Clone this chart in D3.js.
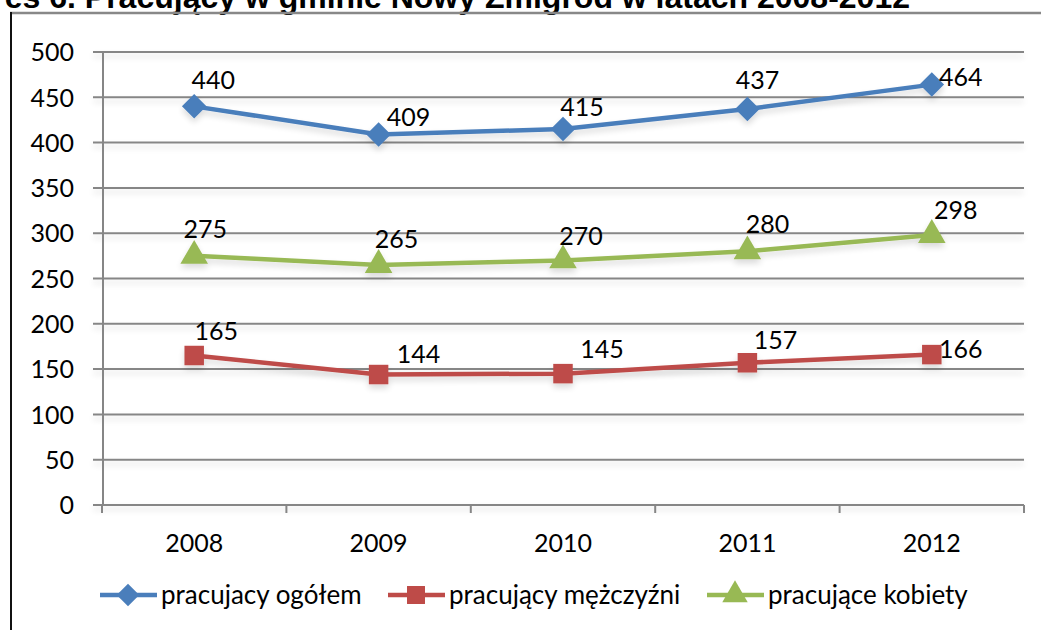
<!DOCTYPE html>
<html><head><meta charset="utf-8">
<script src="https://cdn.jsdelivr.net/npm/d3@7"></script>
<style>body{margin:0;background:#fff;overflow:hidden}svg{display:block}</style>
</head><body>
<svg id="c" width="1041" height="630"></svg>
<script>
const years = ["2008","2009","2010","2011","2012"];
const ogolem = [440,409,415,437,464];
const mezczyzni = [165,144,145,157,166];
const kobiety = [275,265,270,280,298];
const yTicks = [0,50,100,150,200,250,300,350,400,450,500];
const seriesNames = ["pracujacy ogółem","pracujący mężczyźni","pracujące kobiety"];
const titleText = "Wykres 6. Pracujący w gminie Nowy Żmigród w latach 2008-2012";

// label offsets (layout only)
const labelOffsets = [
  [[19,-26],[30,-17],[19,-22],[10,-29],[29,-7]],
  [[22,-24],[40,-20],[39,-24],[28,-23],[29,-5]],
  [[11,-27],[18,-26],[18,-24],[20,-27],[24,-25]]
];

const svg = d3.select("#c");
const font = "Lato, 'Open Sans', sans-serif";
const FS = 25;

const defs = svg.append("defs");
const f = defs.append("filter").attr("id","sh").attr("filterUnits","userSpaceOnUse")
  .attr("x",0).attr("y",0).attr("width",1041).attr("height",630);
f.append("feGaussianBlur").attr("in","SourceAlpha").attr("stdDeviation",3).attr("result","b");
f.append("feOffset").attr("in","b").attr("dy",4).attr("result","o");
f.append("feComponentTransfer").attr("in","o").attr("result","s").append("feFuncA").attr("type","linear").attr("slope",0.15);
const fm = f.append("feMerge"); fm.append("feMergeNode").attr("in","s"); fm.append("feMergeNode").attr("in","SourceGraphic");

// title (cut off at top)
svg.append("text").attr("x",910).attr("y",8).attr("text-anchor","end")
  .attr("font-family","'Liberation Sans', Arial, sans-serif").attr("font-weight","bold")
  .attr("font-size",32).attr("fill","#000").text(titleText);

// frame
svg.append("line").attr("x1",10).attr("x2",1041).attr("y1",13).attr("y2",13).attr("stroke","#888").attr("stroke-width",2.5);
svg.append("line").attr("x1",11).attr("x2",11).attr("y1",12).attr("y2",630).attr("stroke","#111").attr("stroke-width",2);

const x = d3.scaleBand().domain(years).range([102,1024]);
const y = d3.scaleLinear().domain([0,500]).range([505,52]);

// gridlines
const grid = svg.append("g").attr("filter","url(#sh)");
grid.selectAll("line").data(yTicks).join("line")
  .attr("x1",93).attr("x2",1024).attr("y1",d=>y(d)).attr("y2",d=>y(d))
  .attr("stroke","#868686").attr("stroke-width",2);

// y axis line
svg.append("line").attr("x1",103).attr("x2",103).attr("y1",y(500)).attr("y2",y(0)).attr("stroke","#868686").attr("stroke-width",2);

// y tick labels
const yAxis = d3.axisLeft(y).tickValues(yTicks).tickSize(0).tickPadding(0);
const gy = svg.append("g").attr("transform","translate(74,0)").call(yAxis);
gy.select(".domain").remove();
gy.selectAll("text").attr("font-family",font).attr("font-size",FS).attr("fill","#000").attr("dy","0.35em");

// x axis ticks at band boundaries
const bounds = years.map(d=>x(d)).concat([x.range()[1]]);
svg.append("g").selectAll("line").data(bounds).join("line")
  .attr("x1",d=>d).attr("x2",d=>d).attr("y1",y(0)).attr("y2",y(0)+8)
  .attr("stroke","#868686").attr("stroke-width",2);
const xAxis = d3.axisBottom(x).tickSize(0).tickPadding(0);
const gx = svg.append("g").attr("transform","translate(0,543)").call(xAxis);
gx.select(".domain").remove();
gx.selectAll("text").attr("font-family",font).attr("font-size",FS).attr("fill","#000").attr("dy","0.35em");

const colors = ["#4a7ebb","#be4b48","#98b954"];
const shapes = [d3.symbolSquare, d3.symbolSquare, d3.symbolTriangle];
const rots = [45, 0, 0];
const sizes = [300, 380, 330];
const data = [ogolem, mezczyzni, kobiety];
const cx = d => x(d) + x.bandwidth()/2;

const line = d3.line().x((d,i)=>cx(years[i])).y(d=>y(d));
data.forEach((vals,si)=>{
  const g = svg.append("g").attr("filter","url(#sh)");
  g.append("path").datum(vals).attr("d",line).attr("fill","none").attr("stroke",colors[si]).attr("stroke-width",4.5).attr("stroke-linejoin","round");
  g.selectAll("path.m").data(vals).join("path").attr("class","m")
    .attr("transform",(d,i)=>`translate(${cx(years[i])},${y(d)}) rotate(${rots[si]})`)
    .attr("d",d3.symbol().type(shapes[si]).size(sizes[si])).attr("fill",colors[si]);
  svg.append("g").selectAll("text").data(vals).join("text")
    .attr("x",(d,i)=>cx(years[i])+labelOffsets[si][i][0])
    .attr("y",(d,i)=>y(d)+labelOffsets[si][i][1])
    .attr("dy","0.35em").attr("text-anchor","middle")
    .attr("font-family",font).attr("font-size",FS).attr("fill","#000").text(d=>d);
});

// legend
const legX = [100,388,707];
const legY = 595;
seriesNames.forEach((n,i)=>{
  const g = svg.append("g");
  g.append("line").attr("x1",legX[i]).attr("x2",legX[i]+57).attr("y1",legY).attr("y2",legY).attr("stroke",colors[i]).attr("stroke-width",4.5);
  g.append("path").attr("transform",`translate(${legX[i]+28},${legY}) rotate(${rots[i]})`)
    .attr("d",d3.symbol().type(shapes[i]).size(sizes[i]*0.85)).attr("fill",colors[i]);
  g.append("text").attr("x",legX[i]+61).attr("y",legY).attr("dy","0.35em")
    .attr("font-family",font).attr("font-size",26).attr("fill","#000").text(n);
});
</script>
</body></html>
